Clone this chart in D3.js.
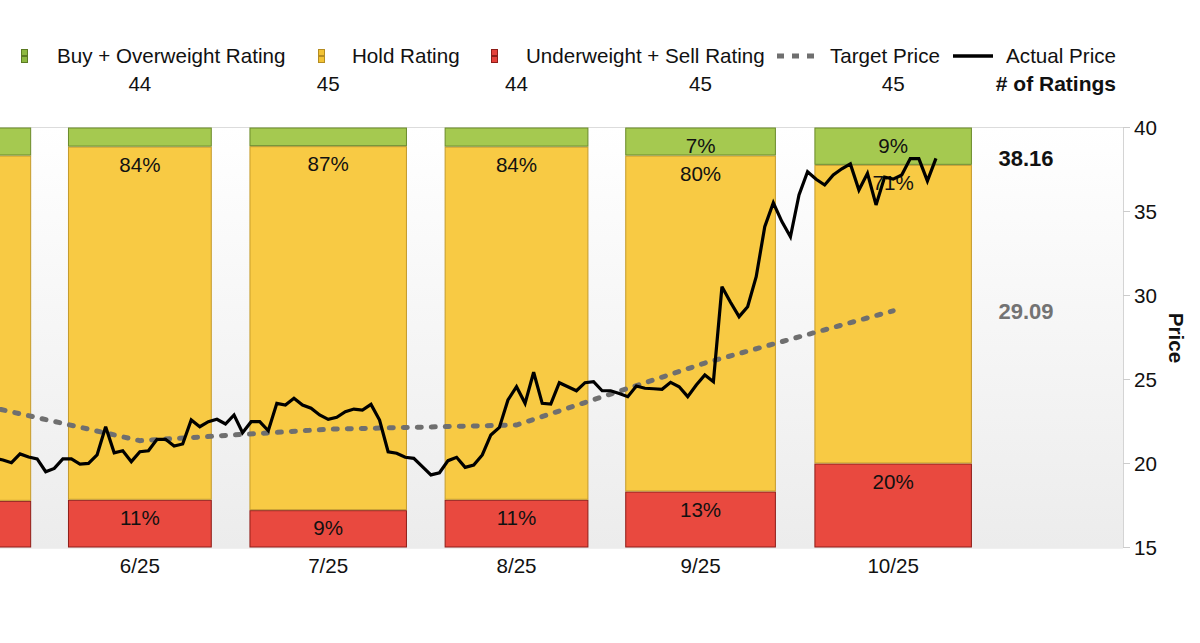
<!DOCTYPE html>
<html><head><meta charset="utf-8">
<script src="https://cdn.jsdelivr.net/npm/d3@7"></script>
<style>
body{margin:0;background:#fff;}
svg{display:block;font-family:"Liberation Sans",Arial,Helvetica,sans-serif;}
</style>
</head><body>
<svg id="chart" width="1200" height="643"></svg>
<script>
// ---------------- data ----------------
const months = ["2025-05","2025-06","2025-07","2025-08","2025-09","2025-10"];
const monthLabels = ["5/25","6/25","7/25","8/25","9/25","10/25"];
const buyCounts  = [3, 2, 2, 2, 3, 4];
const holdCounts = [37, 37, 39, 37, 36, 32];
const sellCounts = [5, 5, 4, 5, 6, 9];

const targetDates  = ["2025-05-16","2025-06-16","2025-07-16","2025-08-15","2025-09-16","2025-10-16"];
const targetValues = [23.76, 21.36, 22.04, 22.29, 25.98, 29.09];

// daily closes, one per weekday starting at priceStart
const priceStart = "2025-05-22";
const priceValues = [
20.3,20.21,20.05,20.57,20.39,20.27,19.51,
19.71,20.27,20.27,19.97,20.01,20.51,22.19,20.64,20.76,20.11,
20.70,20.76,21.44,21.44,21.04,21.16,22.59,22.19,22.49,22.63,
22.35,22.89,21.83,22.49,22.49,21.95,23.58,23.48,23.88,23.48,
23.29,22.89,22.63,22.75,23.08,23.24,23.18,23.52,22.59,20.70,
20.61,20.37,20.31,19.81,19.32,19.45,20.17,20.37,19.77,19.91,
20.51,21.70,22.15,23.78,24.57,23.58,25.43,23.58,23.54,24.81,
24.57,24.33,24.81,24.87,24.33,24.33,24.17,23.98,24.61,24.48,
24.45,24.42,24.83,24.57,23.98,24.67,25.27,24.87,30.52,29.6,
28.74,29.33,31.12,34.10,35.52,34.40,33.50,35.98,37.37,36.92,
36.58,37.17,37.54,37.83,36.28,37.27,35.39,37.05,36.93,37.17,
38.15,38.15,36.82,38.16];

const yTicks = [15, 20, 25, 30, 35, 40];
const lastActual = "38.16";
const lastTarget = "29.09";

// ---------------- layout ----------------
const svg = d3.select("#chart");
const plotTop = 127.5, plotBottom = 547.5, plotRight = 1123;
const FS = 20.6;
const parseDay = d3.timeParse("%Y-%m-%d");
const parseMonth = d3.timeParse("%Y-%m");

// weekday (business-day) axis
const weekdays = d3.timeDay.range(new Date(2025,3,1), new Date(2025,11,31)).filter(d => d.getDay() % 6 !== 0);
const dayKey = d3.timeFormat("%Y-%m-%d");
const baseIdx = weekdays.findIndex(d => dayKey(d) === "2025-06-02");
const idxMap = new Map(weekdays.map((d,i)=>[dayKey(d), i - baseIdx]));
const kOf = d => idxMap.get(dayKey(d));

const x = d3.scaleLinear().domain([-0.5, 109.5]).range([50, 991.6]);
const y = d3.scaleLinear().domain([15,40]).range([plotBottom, plotTop]);
const pct = d3.scaleLinear().domain([0,100]).range([plotBottom, plotTop]);

// background gradient
const defs = svg.append("defs");
const grad = defs.append("linearGradient").attr("id","bg").attr("x1",0).attr("y1",0).attr("x2",0).attr("y2",1);
grad.append("stop").attr("offset","0%").attr("stop-color","#ffffff");
grad.append("stop").attr("offset","100%").attr("stop-color","#ececec");
svg.append("rect").attr("x",-20).attr("y",plotTop).attr("width",plotRight+20).attr("height",plotBottom-plotTop).attr("fill","url(#bg)");
svg.append("line").attr("x1",0).attr("x2",plotRight).attr("y1",plotTop).attr("y2",plotTop).attr("stroke","#dcdcdc");
svg.append("line").attr("x1",0).attr("x2",plotRight).attr("y1",plotBottom+0.5).attr("y2",plotBottom+0.5).attr("stroke","#e2e2e2");

// bars
const segColors = {
  sell:{fill:"#e9493f", stroke:"#8e1d18"},
  hold:{fill:"#f8ca44", stroke:"#c49a2c"},
  buy:{fill:"#a5c950", stroke:"#6a8a2a"}
};
const barData = months.map((m,i)=>{
  const s = parseMonth(m), e = d3.timeMonth.offset(s,1);
  const days = weekdays.filter(d => d >= s && d < e);
  const k0 = kOf(days[0]), k1 = kOf(days[days.length-1]);
  const tot = buyCounts[i]+holdCounts[i]+sellCounts[i];
  const ps = sellCounts[i]/tot*100, ph = holdCounts[i]/tot*100, pb = buyCounts[i]/tot*100;
  return {i, k0, k1, tot,
    segs:[{k:"sell",a:0,b:ps,p:ps},{k:"hold",a:ps,b:ps+ph,p:ph},{k:"buy",a:ps+ph,b:100,p:pb}]};
});
const gBars = svg.append("g");
barData.forEach(d=>{
  const s0 = x(d.k0-0.5), s1 = x(d.k1+0.5);
  const cx = (s0+s1)/2, bw = (s1-s0)*0.8;
  const x0 = cx-bw/2, x1 = cx+bw/2;
  d.segs.forEach(sg=>{
    gBars.append("rect")
      .attr("x",x0+0.5).attr("width",x1-x0-1)
      .attr("y",pct(sg.b)+0.5).attr("height",pct(sg.a)-pct(sg.b)-1)
      .attr("fill",segColors[sg.k].fill).attr("stroke",segColors[sg.k].stroke).attr("stroke-width",1);
  });
  if (cx < 0) return; // label area lies outside the visible frame
  d.segs.forEach(sg=>{
    if (sg.p < 5.5) return;
    gBars.append("text").attr("x",cx).attr("y",pct(sg.b)+25)
      .attr("text-anchor","middle").attr("font-size",FS).attr("fill","#111")
      .text(Math.round(sg.p)+"%");
  });
  svg.append("text").attr("x",cx).attr("y",91).attr("text-anchor","middle")
    .attr("font-size",FS).attr("fill","#111").text(d.tot);
  svg.append("text").attr("x",cx).attr("y",573).attr("text-anchor","middle")
    .attr("font-size",FS).attr("fill","#111").text(monthLabels[d.i]);
});

// right axis
svg.append("line").attr("x1",plotRight+0.5).attr("x2",plotRight+0.5).attr("y1",plotTop).attr("y2",plotBottom).attr("stroke","#d4d4d4");
yTicks.forEach(t=>{
  svg.append("line").attr("x1",plotRight).attr("x2",plotRight+7).attr("y1",y(t)).attr("y2",y(t)).attr("stroke","#cccccc");
  svg.append("text").attr("x",1134).attr("y",y(t)+7).attr("font-size",FS).attr("fill","#111").text(t);
});
svg.append("text").attr("transform","translate(1169,338) rotate(90)").attr("text-anchor","middle")
  .attr("font-size",FS).attr("font-weight","bold").attr("fill","#111").text("Price");

// target line
const tData = targetDates.map((d,i)=>({k:kOf(parseDay(d)), v:targetValues[i]}));
svg.append("path").datum(tData)
  .attr("d", d3.line().x(d=>x(d.k)).y(d=>y(d.v)))
  .attr("fill","none").attr("stroke","#6f6f6f").attr("stroke-width",5)
  .attr("stroke-linecap","round").attr("stroke-dasharray","4,10");

// price line
const startK = kOf(parseDay(priceStart));
const pData = priceValues.map((v,i)=>({k:startK+i, v}));
svg.append("path").datum(pData)
  .attr("d", d3.line().x(d=>x(d.k)).y(d=>y(d.v)))
  .attr("fill","none").attr("stroke","#000").attr("stroke-width",3.2)
  .attr("stroke-linejoin","miter").attr("stroke-miterlimit",3);

// end labels
svg.append("text").attr("x",1026).attr("y",y(+lastActual)+8).attr("text-anchor","middle")
  .attr("font-size",22).attr("font-weight","bold").attr("fill","#111").text(lastActual);
svg.append("text").attr("x",1026).attr("y",y(+lastTarget)+8).attr("text-anchor","middle")
  .attr("font-size",22).attr("font-weight","bold").attr("fill","#737373").text(lastTarget);

// legend
const lg = svg.append("g");
const ly = 63;
function icon(cx, fill, stroke){
  lg.append("rect").attr("x",cx).attr("y",49.5).attr("width",6).attr("height",6).attr("fill",fill).attr("stroke",stroke);
  lg.append("rect").attr("x",cx).attr("y",56.5).attr("width",6).attr("height",6).attr("fill",fill).attr("stroke",stroke);
}
icon(21.5, "#8db840", "#5b7a22");
lg.append("text").attr("x",57).attr("y",ly).attr("font-size",FS).attr("fill","#111").text("Buy + Overweight Rating");
icon(318.5, "#f2c234", "#b58d22");
lg.append("text").attr("x",352).attr("y",ly).attr("font-size",FS).attr("fill","#111").text("Hold Rating");
icon(491.5, "#e4413b", "#8e1d18");
lg.append("text").attr("x",526).attr("y",ly).attr("font-size",FS).attr("fill","#111").text("Underweight + Sell Rating");
lg.append("line").attr("x1",777).attr("x2",815).attr("y1",56).attr("y2",56)
  .attr("stroke","#6f6f6f").attr("stroke-width",5).attr("stroke-dasharray","7,8");
lg.append("text").attr("x",830).attr("y",ly).attr("font-size",FS).attr("fill","#111").text("Target Price");
lg.append("line").attr("x1",953).attr("x2",993).attr("y1",56).attr("y2",56)
  .attr("stroke","#000").attr("stroke-width",3.5);
lg.append("text").attr("x",1116).attr("y",ly).attr("text-anchor","end").attr("font-size",FS).attr("fill","#111").text("Actual Price");
lg.append("text").attr("x",1116).attr("y",91).attr("text-anchor","end").attr("font-size",21)
  .attr("font-weight","bold").attr("fill","#111").text("# of Ratings");
</script>
</body></html>
